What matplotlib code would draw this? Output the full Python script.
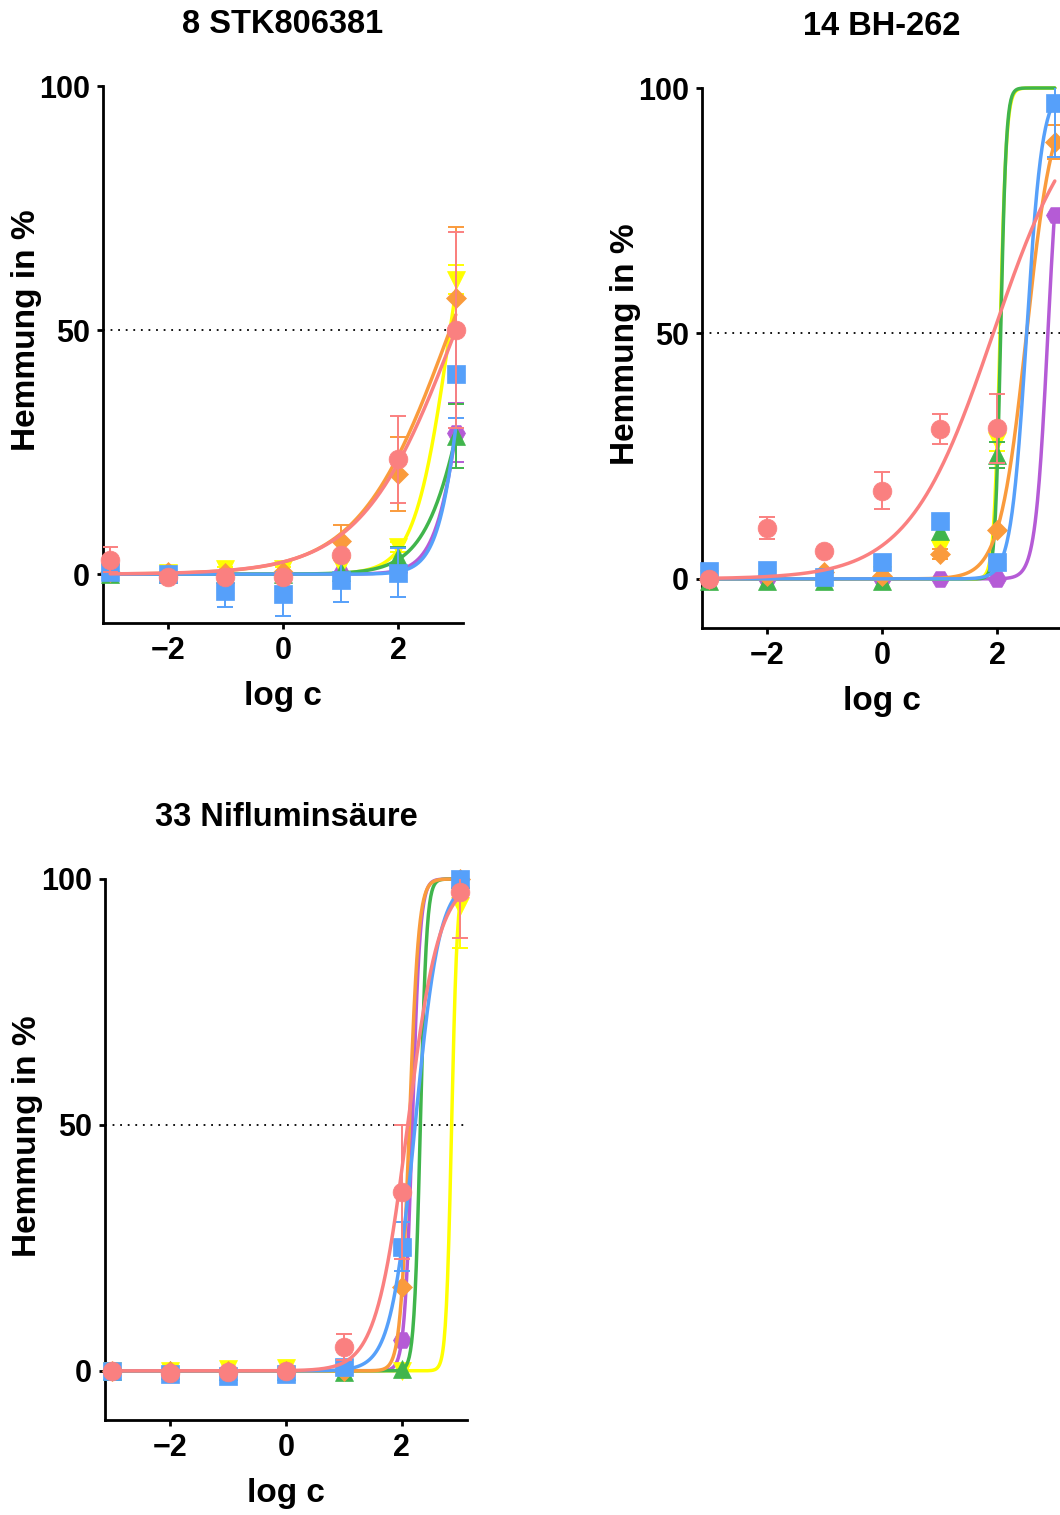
import numpy as np
import matplotlib
matplotlib.use("Agg")
import matplotlib.pyplot as plt

plt.rcParams['font.family'] = ['Liberation Sans', 'DejaVu Sans']
plt.rcParams['font.weight'] = 'bold'

# ---------------- data ----------------
log_c = [-3, -2, -1, 0, 1, 2, 3]
series_names = ["purple", "yellow", "green", "orange", "blue", "salmon"]
colors = {"salmon": "#FA8080", "blue": "#56A0FA", "orange": "#FA9B3C",
          "yellow": "#FFFF00", "green": "#40B54C", "purple": "#B55BD6"}
markers = {"salmon": "o", "blue": "s", "orange": "D", "yellow": "v",
           "green": "^", "purple": "H"}
marker_sizes = {"salmon": 13.5, "blue": 12.5, "orange": 10.5, "yellow": 13,
                "green": 13, "purple": 13}

titles = ["8 STK806381", "14 BH-262", "33 Nifluminsäure"]
y_ticks = [0, 50, 100]
x_ticks = [-2, 0, 2]

# Panel 1: 8 STK806381
p1_mean = {
    "salmon": [3, -0.6, -0.5, -0.6, 4, 23.5, 50],
    "orange": [0.5, 0.5, 0.3, 0.5, 6.7, 20.5, 56.6],
    "yellow": [0.3, 0.3, 1, 1, 1.6, 5.5, 60.3],
    "green":  [0, 0, 0, 0, 0.5, 3.5, 28.3],
    "purple": [0, 0, 0, 0, 0, 0.5, 29],
    "blue":   [0.5, 0, -3.5, -4, -1.1, 0.3, 41],
}
p1_err = {
    "salmon": [2.5, 0, 0, 0, 0, 9, 20],
    "orange": [0, 0, 0, 0, 3.3, 7.5, 14.5],
    "yellow": [0, 0, 0.5, 0.5, 0, 1, 3],
    "green":  [0, 0, 0, 0, 0, 2, 6.5],
    "purple": [0, 0, 0, 0, 0, 0, 6],
    "blue":   [0, 0, 3.3, 4.5, 4.5, 5, 9],
}
p1_logic50 = {"salmon": 3.0, "orange": 2.9, "yellow": 2.9, "green": 3.37, "purple": 3.23, "blue": 3.19}
p1_hill = {"salmon": 0.53, "orange": 0.55, "yellow": 1.42, "green": 1.1, "purple": 1.7, "blue": 1.93}

# Panel 2: 14 BH-262
p2_mean = {
    "salmon": [0, 10.4, 5.6, 18, 30.5, 30.7, np.nan],
    "blue":   [1.7, 1.9, 0.4, 3.4, 11.7, 3.5, 97],
    "orange": [0, 0.5, 1.5, 0.5, 5, 10, 89],
    "yellow": [0, 0, 0, 0.7, 6, 28, np.nan],
    "green":  [-0.5, -0.5, -0.5, -0.5, 9.8, 25.2, np.nan],
    "purple": [-0.3, 0, 0, 0, 0, 0, 74.2],
}
p2_err = {
    "salmon": [0, 2.3, 0, 3.8, 3, 7, 0],
    "blue":   [0, 0, 0, 0, 0, 0, 11],
    "orange": [0, 0, 0, 0, 1, 0, 3.5],
    "yellow": [0, 0, 0, 0, 2, 2, 0],
    "green":  [0, 0, 0, 0, 0, 2.7, 0],
    "purple": [0, 0, 0, 0, 0, 0, 0],
}
p2_logic50 = {"salmon": 1.93, "blue": 2.51, "orange": 2.51, "green": 2.06, "yellow": 2.05, "purple": 2.88}
p2_hill = {"salmon": 0.59, "blue": 3.2, "orange": 1.86, "green": 9, "yellow": 8, "purple": 4}

# Panel 3: 33 Nifluminsäure
p3_mean = {
    "salmon": [0, -0.5, -0.3, 0, 4.9, 36.4, 97.4],
    "blue":   [0, -0.6, -1, -0.6, 0.7, 25.2, 100],
    "orange": [0, 0, 0, 0, 0, 17, 100],
    "purple": [0, 0, 0, 0, 0, 6.3, 100],
    "green":  [0, 0.2, 0, 0, -0.3, 0.3, 100],
    "yellow": [0, 0, 0.3, 0.5, 0.5, 0, 94.6],
}
p3_err = {
    "salmon": [0, 0, 0, 0, 2.6, 13.6, 9.4],
    "blue":   [0, 0, 0, 0, 0, 5, 0],
    "orange": [0, 0, 0, 0, 0, 0, 0],
    "purple": [0, 0, 0, 0, 0, 0, 0],
    "green":  [0, 0, 0, 0, 0, 0, 0],
    "yellow": [0, 0, 0, 0, 0, 0, 8.6],
}
p3_logic50 = {"orange": 2.13, "purple": 2.18, "green": 2.32, "blue": 2.23, "salmon": 2.1, "yellow": 2.86}
p3_hill = {"orange": 5.5, "purple": 6.5, "green": 8, "blue": 2.07, "salmon": 1.6, "yellow": 9}

panels = [
    (p1_mean, p1_err, p1_logic50, p1_hill),
    (p2_mean, p2_err, p2_logic50, p2_hill),
    (p3_mean, p3_err, p3_logic50, p3_hill),
]

# ---------------- layout ----------------
W, H = 1060, 1515
fig = plt.figure(figsize=(W / 100, H / 100), dpi=100)

def px_axes(left, top, right, bottom):
    return fig.add_axes([left / W, 1 - bottom / H, (right - left) / W, (bottom - top) / H])

axes = [px_axes(103, 86, 463, 623), px_axes(702, 88, 1062, 628), px_axes(105, 879, 467, 1420)]
ylabel_y = [0.545, 0.525, 0.525]

def hill_curve(x, logic50, hill):
    return 100.0 / (1.0 + 10 ** ((logic50 - x) * hill))

xfit = np.linspace(-3, 3, 600)

for ax, title, yl, (mean, err, lic, hs) in zip(axes, titles, ylabel_y, panels):
    ax.axhline(50, color="black", linestyle=(0, (1, 3.2)), linewidth=1.3, zorder=1)
    for z, name in enumerate(series_names):
        c = colors[name]
        m = np.array(mean[name], dtype=float)
        e = np.array(err[name], dtype=float)
        x = np.array(log_c, dtype=float)
        ax.plot(xfit, hill_curve(xfit, lic[name], hs[name]), color=c, lw=2.5, zorder=2 + z,
                solid_capstyle="round", clip_on=False)
        sel = e > 0
        if sel.any():
            ax.errorbar(x[sel], m[sel], yerr=e[sel], fmt="none", ecolor=c, elinewidth=1.4,
                        capsize=6, capthick=1.4, zorder=2 + z + 0.3)
        ax.plot(x, m, linestyle="none", marker=markers[name], ms=marker_sizes[name],
                color=c, mec=c, mew=0.5, zorder=2 + z + 0.5, clip_on=False)
    ax.set_xlim(-3.125, 3.125)
    ax.set_ylim(-10, 100)
    ax.set_xticks(x_ticks)
    ax.set_yticks(y_ticks)
    for s in ["top", "right"]:
        ax.spines[s].set_visible(False)
    for s in ["left", "bottom"]:
        ax.spines[s].set_linewidth(2)
    ax.tick_params(width=2, length=4.5, labelsize=22, pad=5)
    for lab in ax.get_xticklabels() + ax.get_yticklabels():
        lab.set_fontweight("bold")
    ax.set_xlabel("log c", fontsize=24, fontweight="bold", labelpad=11)
    ax.set_ylabel("Hemmung in %", fontsize=24, fontweight="bold")
    ax.yaxis.set_label_coords(-0.17, yl)
    ax.set_title(title, fontsize=23.5, fontweight="bold", pad=38)

fig.savefig("out.png", dpi=100)
